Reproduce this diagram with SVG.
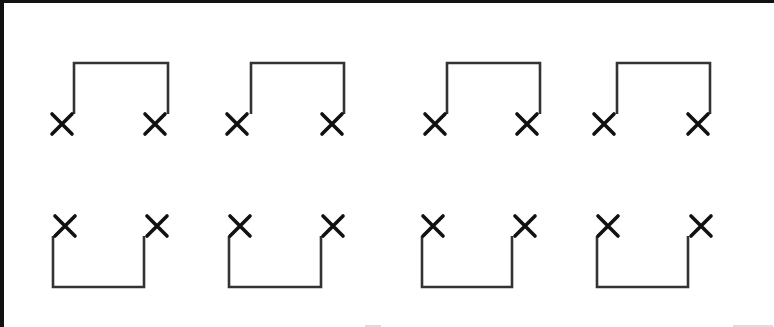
<svg xmlns="http://www.w3.org/2000/svg" xmlns:xlink="http://www.w3.org/1999/xlink" width="774" height="327" viewBox="0 0 774 327">
<style>
.x{stroke:#111;stroke-width:3.6;stroke-linecap:round;fill:none}
.c{stroke:#333;stroke-width:2.6;fill:none;stroke-linejoin:miter}
</style>
<defs>
<path id="cross" class="x" d="M-10,-10L10,10M10,-10L-10,10"/>
</defs>
<rect x="0" y="0" width="774" height="327" fill="#fff"/>
<rect x="0" y="0" width="774" height="3" fill="#111"/>
<rect x="0" y="0" width="4" height="327" fill="#111"/>
<rect x="365" y="325" width="16" height="2" fill="#ddd"/>
<rect x="733" y="325" width="40" height="2" fill="#ddd"/>
<g id="connectors">
<path class="c" d="M74,114V63H168V114"/>
<path class="c" d="M251,114V63H344V114"/>
<path class="c" d="M447,114V63H540V114"/>
<path class="c" d="M617,114V63H710V114"/>
<path class="c" d="M53,236V287H144V236"/>
<path class="c" d="M229,236V287H321V236"/>
<path class="c" d="M422,236V287H512V236"/>
<path class="c" d="M597,236V287H688V236"/>
</g>
<g id="t1a"><use xlink:href="#cross" x="62" y="124"/></g>
<g id="t1b"><use xlink:href="#cross" x="155" y="124"/></g>
<g id="t2a"><use xlink:href="#cross" x="237" y="124"/></g>
<g id="t2b"><use xlink:href="#cross" x="332" y="124"/></g>
<g id="t3a"><use xlink:href="#cross" x="435" y="124"/></g>
<g id="t3b"><use xlink:href="#cross" x="527" y="124"/></g>
<g id="t4a"><use xlink:href="#cross" x="604" y="124"/></g>
<g id="t4b"><use xlink:href="#cross" x="698" y="124"/></g>
<g id="b1a"><use xlink:href="#cross" x="65" y="226"/></g>
<g id="b1b"><use xlink:href="#cross" x="157" y="226"/></g>
<g id="b2a"><use xlink:href="#cross" x="240" y="226"/></g>
<g id="b2b"><use xlink:href="#cross" x="333" y="226"/></g>
<g id="b3a"><use xlink:href="#cross" x="433" y="226"/></g>
<g id="b3b"><use xlink:href="#cross" x="525" y="226"/></g>
<g id="b4a"><use xlink:href="#cross" x="608" y="226"/></g>
<g id="b4b"><use xlink:href="#cross" x="701" y="226"/></g>
</svg>
